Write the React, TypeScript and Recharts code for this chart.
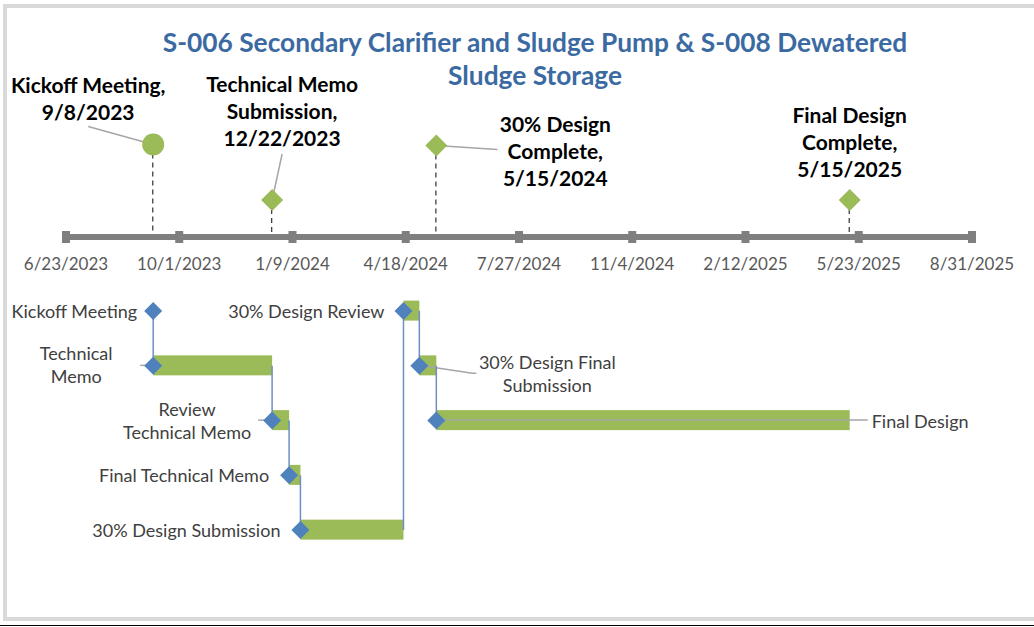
import React from 'react'
import { ComposedChart, Bar, Line, Scatter, XAxis, YAxis } from 'recharts'

const W = 1034
const H = 627
const FONT = 'Lato, "Open Sans", sans-serif'

// timeline ticks (every 100 days)
const tickDates = ['2023-06-23', '2023-10-01', '2024-01-09', '2024-04-18', '2024-07-27', '2024-11-04', '2025-02-12', '2025-05-23', '2025-08-31']

// milestones shown above the timeline
const milestoneNames = ['Kickoff Meeting', 'Technical Memo\nSubmission', '30% Design\nComplete', 'Final Design\nComplete']
const milestoneDates = ['2023-09-08', '2023-12-22', '2024-05-15', '2025-05-15']
const milestoneLevels = [5, 2, 4.95, 2]

// gantt tasks below the timeline
const taskNames = ['Kickoff Meeting', 'Technical\nMemo', 'Review\nTechnical Memo', 'Final Technical Memo', '30% Design Submission', '30% Design Review', '30% Design Final\nSubmission', 'Final Design']
const taskStarts = ['2023-09-08', '2023-09-08', '2023-12-22', '2024-01-06', '2024-01-16', '2024-04-16', '2024-04-30', '2024-05-15']
const taskEnds = ['2023-09-08', '2023-12-22', '2024-01-06', '2024-01-16', '2024-04-16', '2024-04-30', '2024-05-15', '2025-05-15']
const taskRows = [0, 1, 2, 3, 4, 0, 1, 2]

const ORIGIN = Date.UTC(2023, 5, 23)
const dayOf = (s: string) => {
    const [y, m, d] = s.split('-').map(Number)
    return Math.round((Date.UTC(y, m - 1, d) - ORIGIN) / 86400000)
}
const fmt = (s: string) => {
    const [y, m, d] = s.split('-').map(Number)
    return `${m}/${d}/${y}`
}

const tickDays = tickDates.map(dayOf)
const tickLabel: Record<number, string> = {}
tickDates.forEach((d) => { tickLabel[dayOf(d)] = fmt(d) })

const milestoneData = milestoneNames.map((name, i) => ({
    idx: i,
    name,
    date: milestoneDates[i],
    day: dayOf(milestoneDates[i]),
    level: milestoneLevels[i],
}))

const taskData = taskNames.map((name, i) => ({
    idx: i,
    name,
    row: taskRows[i],
    start: dayOf(taskStarts[i]),
    span: [dayOf(taskStarts[i]), dayOf(taskEnds[i])],
}))

// finish-to-start links: one two-point segment per successor
const linkSegments = taskData.slice(0, -1).map((t, i) => [
    { row: t.row, x: t.span[1] },
    { row: taskData[i + 1].row, x: t.span[1] },
])

// label placement (pixels, relative to marker)
const milestoneLayout = [
    { marker: 'circle', dx: -65, dy: -60, leader: [[-65, -18], [0, 0]] },
    { marker: 'diamond', dx: 10, dy: -117, leader: [[10, -46], [0, 0]] },
    { marker: 'diamond', dx: 119, dy: -22, leader: [[0, 0], [61, 4]] },
    { marker: 'diamond', dx: 0, dy: -86, leader: null },
]

const taskLabelLayout = [
    { at: 'start', dx: -16, dy: 0, anchor: 'end', leader: null },
    { at: 'start', dx: -77, dy: -12, anchor: 'middle', leader: [[-13, 0], [0, 0]] },
    { at: 'start', dx: -85, dy: -11, anchor: 'middle', leader: [[-14, 0], [0, 0]] },
    { at: 'start', dx: -20, dy: 0, anchor: 'end', leader: null },
    { at: 'start', dx: -20, dy: 0, anchor: 'end', leader: null },
    { at: 'start', dx: -19, dy: 0, anchor: 'end', leader: null },
    { at: 'start', dx: 128, dy: -3, anchor: 'middle', leader: [[0, 0], [53, 8], [57, 8]] },
    { at: 'end', dx: 22, dy: 1, anchor: 'start', leader: 'span' },
]

const TICK_GAP = 20

const AxisTick = (p: any) => {
    const axisY = p.y - TICK_GAP
    return (
        <g>
            <rect x={p.x - 4} y={axisY - 6} width={8} height={12} fill="#7f7f7f" />
            <text x={p.x} y={axisY + 26} textAnchor="middle" dominantBaseline="central"
                fill="#595959" fontSize={17} fontFamily={FONT}>
                {tickLabel[p.payload.value]}
            </text>
        </g>
    )
}

const DropLine = (p: any) => {
    const cx = p.x + p.width / 2
    return <line x1={cx} x2={cx} y1={p.y} y2={p.y + p.height} stroke="#404040" strokeWidth={1.3} strokeDasharray="5 4" />
}

const MilestoneMarker = (p: any) => {
    const { cx, cy, payload } = p
    const lay = milestoneLayout[payload.idx]
    const lines = payload.name.split('\n')
    lines[lines.length - 1] += ','
    lines.push(fmt(payload.date))
    return (
        <g>
            {lay.leader && (
                <polyline points={lay.leader.map(([a, b]) => `${cx + a},${cy + b}`).join(' ')}
                    fill="none" stroke="#a6a6a6" strokeWidth={1.5} />
            )}
            {lay.marker === 'circle'
                ? <circle cx={cx} cy={cy} r={11} fill="#9bbb59" />
                : <path d={`M${cx - 11},${cy}L${cx},${cy - 11}L${cx + 11},${cy}L${cx},${cy + 11}Z`} fill="#9bbb59" />}
            {lines.map((t: string, i: number) => (
                <text key={i} x={cx + lay.dx} y={cy + lay.dy + i * 27} textAnchor="middle" dominantBaseline="central"
                    fill="#000" fontSize={21} fontWeight={700} fontFamily={FONT}>{t}</text>
            ))}
        </g>
    )
}

const TaskBar = (p: any) => {
    const { x, y, width, height, payload } = p
    const cy = y + height / 2
    const lay = taskLabelLayout[payload.idx]
    const ox = lay.at === 'end' ? x + width : x
    const lines = payload.name.split('\n')
    let leader: string | null = null
    if (lay.leader === 'span') leader = `${x},${cy} ${x + width + 18},${cy}`
    else if (lay.leader) leader = (lay.leader as number[][]).map(([a, b]) => `${ox + a},${cy + b}`).join(' ')
    return (
        <g>
            {width > 0 && <rect x={x} y={y} width={width} height={height} fill="#9bbb59" />}
            {leader && <polyline points={leader} fill="none" stroke="#a6a6a6" strokeWidth={1.5} />}
            {lines.map((t: string, i: number) => (
                <text key={i} x={ox + lay.dx} y={cy + lay.dy + i * 23} textAnchor={lay.anchor as any}
                    dominantBaseline="central" fill="#404040" fontSize={18} fontFamily={FONT}>{t}</text>
            ))}
        </g>
    )
}

const TaskDiamond = (p: any) => {
    const { cx, cy } = p
    if (cx == null || cy == null) return <g />
    return <path d={`M${cx - 9},${cy}L${cx},${cy - 9}L${cx + 9},${cy}L${cx},${cy + 9}Z`} fill="#4f81bd" />
}

export default function App() {
    return (
        <div style={{ position: 'absolute', left: 0, top: 0, width: W, height: H, overflow: 'hidden', background: '#fff', fontFamily: FONT }}>
            <div style={{ position: 'absolute', left: 3, top: 4, width: W + 20, height: 617, border: '4px solid #d9d9d9', boxSizing: 'border-box' }} />
            <div style={{ position: 'absolute', left: 0, top: 625, width: W, height: 1, background: '#000' }} />
            <div style={{
                position: 'absolute', left: 135, top: 26, width: 800, textAlign: 'center',
                color: '#3b6aa2', fontSize: 26.3, fontWeight: 700, lineHeight: '33px',
            }}>
                <div>S-006 Secondary Clarifier and Sludge Pump &amp; S-008 Dewatered</div>
                <div>Sludge Storage</div>
            </div>

            <div style={{ position: 'absolute', left: 0, top: 0 }}>
                <ComposedChart width={W} height={H} data={milestoneData}
                    margin={{ top: 52, right: 62, bottom: 350, left: 66 }}>
                    <XAxis type="number" dataKey="day" domain={[0, 800]} ticks={tickDays} interval={0}
                        height={40} tickLine={false} tickSize={0} tickMargin={TICK_GAP}
                        axisLine={{ stroke: '#7f7f7f', strokeWidth: 6 }} tick={<AxisTick />} />
                    <YAxis type="number" dataKey="level" domain={[0, 10]} hide />
                    <Bar dataKey="level" barSize={2} shape={DropLine} isAnimationActive={false} />
                    <Scatter dataKey="level" shape={MilestoneMarker} isAnimationActive={false} />
                </ComposedChart>
            </div>

            <div style={{ position: 'absolute', left: 0, top: 0 }}>
                <ComposedChart layout="vertical" width={W} height={H} data={taskData}
                    margin={{ top: 283.6, right: 62, bottom: 69.6, left: 66 }}>
                    <XAxis type="number" domain={[0, 800]} hide />
                    <YAxis type="number" dataKey="row" domain={[-0.5, 4.5]} ticks={[0, 1, 2, 3, 4]} hide />
                    <Bar dataKey="span" barSize={20} fill="#9bbb59" shape={TaskBar} isAnimationActive={false} />
                    {linkSegments.map((seg, i) => (
                        <Line key={i} data={seg} dataKey="x" stroke="#6f8fc4" strokeWidth={1.5}
                            dot={false} activeDot={false} isAnimationActive={false} />
                    ))}
                    <Line dataKey="start" stroke="none" dot={TaskDiamond} activeDot={false} isAnimationActive={false} />
                </ComposedChart>
            </div>
        </div>
    )
}
